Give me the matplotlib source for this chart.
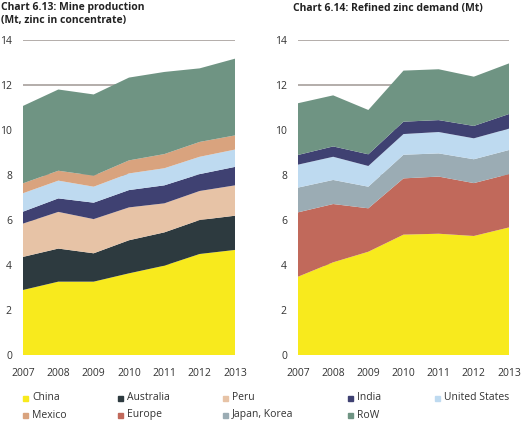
import numpy as np
import matplotlib
matplotlib.use("Agg")
import matplotlib.pyplot as plt
from matplotlib.patches import Rectangle

years = [2007, 2008, 2009, 2010, 2011, 2012, 2013]

# Chart 6.13 mine production, Mt (layer thickness per region)
mine_china = [2.89, 3.26, 3.26, 3.63, 3.97, 4.49, 4.67]
mine_australia = [1.47, 1.47, 1.26, 1.47, 1.48, 1.51, 1.52]
mine_peru = [1.48, 1.63, 1.52, 1.46, 1.29, 1.29, 1.35]
mine_india = [0.53, 0.60, 0.73, 0.77, 0.80, 0.75, 0.82]
mine_us = [0.82, 0.79, 0.71, 0.74, 0.76, 0.77, 0.77]
mine_mexico = [0.44, 0.44, 0.49, 0.58, 0.63, 0.66, 0.63]
mine_row = [3.44, 3.61, 3.61, 3.68, 3.65, 3.27, 3.41]

# Chart 6.14 refined zinc demand, Mt
dem_china = [3.48, 4.12, 4.59, 5.35, 5.39, 5.29, 5.67]
dem_europe = [2.86, 2.59, 1.93, 2.50, 2.54, 2.35, 2.37]
dem_japan = [1.10, 1.07, 0.96, 1.05, 1.03, 1.06, 1.07]
dem_us = [1.02, 1.03, 0.92, 0.92, 0.95, 0.93, 0.95]
dem_india = [0.43, 0.46, 0.52, 0.55, 0.53, 0.55, 0.65]
dem_row = [2.30, 2.27, 1.97, 2.27, 2.26, 2.19, 2.25]

colors = {
    "China": "#f8ea1d",
    "Australia": "#2d3a3f",
    "Peru": "#e7c3a6",
    "India": "#3f4172",
    "United States": "#bedaf0",
    "Mexico": "#d9a37e",
    "Europe": "#c1695b",
    "Japan, Korea": "#9bacb4",
    "RoW": "#6f9483",
}
legend_order = ["China", "Australia", "Peru", "India", "United States",
                "Mexico", "Europe", "Japan, Korea", "RoW"]

mine = [("China", mine_china), ("Australia", mine_australia), ("Peru", mine_peru),
        ("India", mine_india), ("United States", mine_us), ("Mexico", mine_mexico),
        ("RoW", mine_row)]
demand = [("China", dem_china), ("Europe", dem_europe), ("Japan, Korea", dem_japan),
          ("United States", dem_us), ("India", dem_india), ("RoW", dem_row)]

plt.rcParams['font.family'] = ['Open Sans', 'DejaVu Sans']

W, H = 521, 421
fig = plt.figure(figsize=(W / 100, H / 100), dpi=100)


def make_axes(x0, x1, y0, y1):
    return fig.add_axes([x0 / W, 1 - y1 / H, (x1 - x0) / W, (y1 - y0) / H])


def draw(ax, series):
    for y in range(2, 16, 2):
        ax.axhline(y, color="#a7a09c", lw=1.2, zorder=0)
    ax.stackplot(years, *[s for _, s in series],
                 colors=[colors[n] for n, _ in series], zorder=2, lw=0)
    ax.set_xlim(2007, 2013)
    ax.set_ylim(0, 14)
    ax.set_xticks(years)
    ax.set_yticks(range(0, 16, 2))
    ax.tick_params(axis="x", length=0, labelsize=7.5, colors="#333333", pad=9)
    ax.tick_params(axis="y", length=0, labelsize=7.5, colors="#333333", pad=8)
    for sp in ax.spines.values():
        sp.set_visible(False)


ax1 = make_axes(23, 235, 40, 355)
draw(ax1, mine)
ax2 = make_axes(298, 509, 40, 355)
draw(ax2, demand)

fig.text(1 / W, 1 - 2 / H, "Chart 6.13: Mine production\n(Mt, zinc in concentrate)",
         fontsize=7.5, fontweight="bold", va="top", ha="left", color="#222222",
         linespacing=1.2)
fig.text(293 / W, 1 - 3 / H, "Chart 6.14: Refined zinc demand (Mt)",
         fontsize=7.5, fontweight="bold", va="top", ha="left", color="#222222")

col_x = [23, 118, 223, 348, 435]
row_y = [398, 415]
for i, name in enumerate(legend_order):
    x = col_x[i % 5]
    y = row_y[i // 5]
    fig.patches.append(Rectangle((x / W, 1 - (y + 2.5) / H), 5 / W, 5 / H,
                                 transform=fig.transFigure, color=colors[name]))
    fig.text((x + 9) / W, 1 - y / H, name, fontsize=7.5, va="center", ha="left",
             color="#333333")

fig.savefig("out.png", dpi=100)
